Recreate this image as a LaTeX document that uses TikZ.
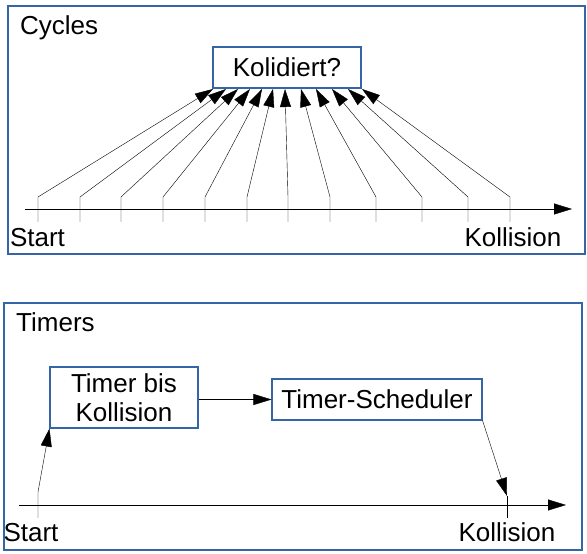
\documentclass[tikz,border=0pt]{standalone}
\usepackage{fontspec}
\setmainfont{Liberation Sans}
\usetikzlibrary{
  arrows.meta,
  positioning,  % Function "of" (e.g. [right=of x])
}
\definecolor{frameblue}{RGB}{52,101,164}
\def\mytickup{357}
\def\myticklow{332}
\def\mytipy{465}
\tikzset{
  x=1pt,
  y=1pt,
  font=\fontsize{26}{29}\selectfont,
  line width=1.15pt,
  >={Triangle[length=18pt,width=11pt]},
  my frame/.style={
    draw=frameblue,
    line width=1.1pt
  },
  my box/.style={
    draw=frameblue,
    fill=white,
    inner sep=0pt,
    line width=1.1pt,
    rectangle
  },
  my title/.style={
    anchor=base west,
    inner sep=0pt
  },
  my label/.style={
    anchor=base,
    inner sep=0pt
  }
}

\begin{document}
\begin{tikzpicture}
\useasboundingbox (0,0) rectangle (587,554);
% Cycles
\draw[my frame] (8,300) rectangle (585,548);
\node[my title] (cyc) at (20,519) {Cycles};
\coordinate (ax1s) at (25,345);
\coordinate (ax1e) at (572,345);
\draw[->] (ax1s) -- (ax1e);
\foreach \x/\e [count=\i] in {38/213,80/226,121/238,163/250,205/262,247/273,
                               288/285,330/301,376/316,422/332,468/348,510/362}{
  \coordinate (b\i) at (\x,\myticklow);
  \coordinate (t\i) at (\x,\mytickup);
  \coordinate (e\i) at (\e,\mytipy);
  \draw[->] (b\i) -- (t\i) -- (e\i);
}
\node[my box,minimum width=148pt,minimum height=41pt] (kol) at (287,486.5) {Kolidiert?};
\node[my label] (start1) at (37.5,307) {Start};
\node[my label] (koll1)  at (513,307)  {Kollision};
% Timers
\draw[my frame] (4,4) rectangle (582,251);
\node[my title] (tim) at (16,222) {Timers};
\node[my box,minimum width=148pt,minimum height=61pt,align=center]
  (tbk) at (124,156.5) {Timer bis\\Kollision};
\node[my box,minimum width=210pt,minimum height=41pt]
  (sch) at (377,154.5) {Timer-Scheduler};
\coordinate (ax2s) at (19,49);
\coordinate (ax2e) at (566,49);
\draw[->] (ax2s) -- (ax2e);
\coordinate (sb) at (38,36);
\coordinate (st) at (38,62);
\coordinate (kb) at (507,36);
\coordinate (kt) at (507,58);
\draw[->] (tbk.east |- sch) -- (sch.west);
\draw[->] (sb) -- (st) -- (tbk.south west);
\draw[->] (sch.south east) -- (kt);
\draw (kt) -- (kb);
\node[my label] (start2) at (31,12)  {Start};
\node[my label] (koll2)  at (507,12) {Kollision};
\end{tikzpicture}
\end{document}
